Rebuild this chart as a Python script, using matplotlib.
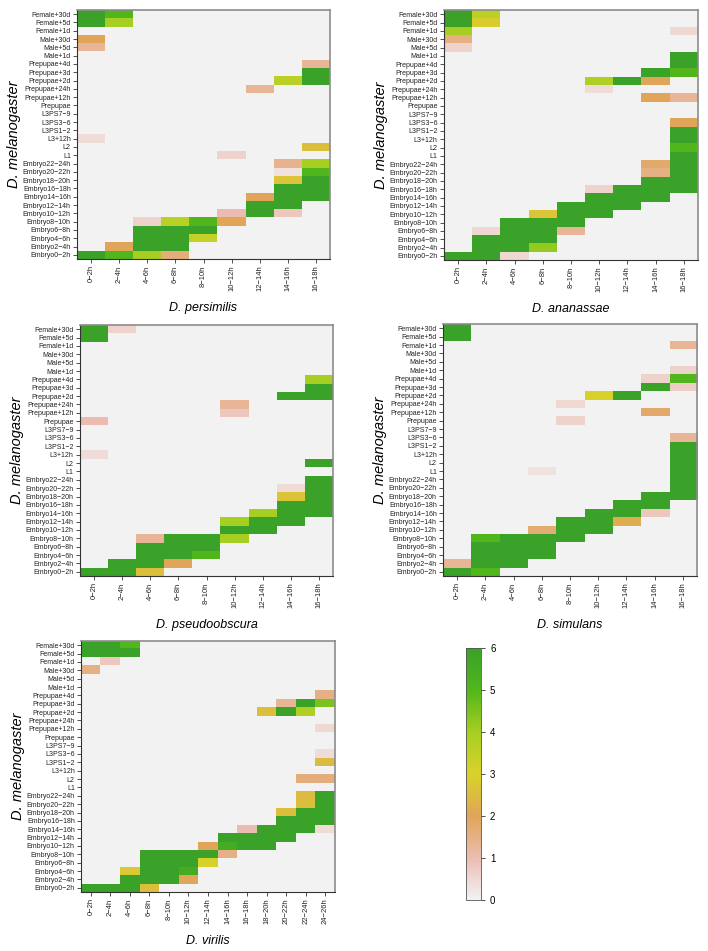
#!/usr/bin/env python3
"""Five melanogaster-vs-species stage heatmaps with a shared colour bar."""
import numpy as np
import matplotlib
matplotlib.use("Agg")
import matplotlib.pyplot as plt
from matplotlib.colors import LinearSegmentedColormap

plt.rcParams['font.family'] = ['Liberation Sans', 'DejaVu Sans']

# melanogaster stages, top to bottom
MEL_STAGES = [
    "Female+30d", "Female+5d", "Female+1d", "Male+30d", "Male+5d", "Male+1d",
    "Prepupae+4d", "Prepupae+3d", "Prepupae+2d", "Prepupae+24h", "Prepupae+12h",
    "Prepupae", "L3PS7\u22129", "L3PS3\u22126", "L3PS1\u22122", "L3+12h", "L2", "L1",
    "Embryo22\u221224h", "Embryo20\u221222h", "Embryo18\u221220h", "Embryo16\u221218h",
    "Embryo14\u221216h", "Embryo12\u221214h", "Embryo10\u221212h", "Embryo8\u221210h",
    "Embryo6\u22128h", "Embryo4\u22126h", "Embryo2\u22124h", "Embryo0\u22122h",
]

HOURS_9 = ["0\u22122h", "2\u22124h", "4\u22126h", "6\u22128h", "8\u221210h",
           "10\u221212h", "12\u221214h", "14\u221216h", "16\u221218h"]
HOURS_13 = HOURS_9 + ["18\u221220h", "20\u221222h", "22\u221224h", "24\u221226h"]

PERSIMILIS = [
    [6, 5, 0, 0, 0, 0, 0, 0, 0],
    [6, 4, 0, 0, 0, 0, 0, 0, 0],
    [0, 0, 0, 0, 0, 0, 0, 0, 0],
    [2, 0, 0, 0, 0, 0, 0, 0, 0],
    [1.3, 0, 0, 0, 0, 0, 0, 0, 0],
    [0, 0, 0, 0, 0, 0, 0, 0, 0],
    [0, 0, 0, 0, 0, 0, 0, 0, 1.3],
    [0, 0, 0, 0, 0, 0, 0, 0, 6],
    [0, 0, 0, 0, 0, 0, 0, 3.6, 6],
    [0, 0, 0, 0, 0, 0, 1.3, 0, 0],
    [0, 0, 0, 0, 0, 0, 0, 0, 0],
    [0, 0, 0, 0, 0, 0, 0, 0, 0],
    [0, 0, 0, 0, 0, 0, 0, 0, 0],
    [0, 0, 0, 0, 0, 0, 0, 0, 0],
    [0, 0, 0, 0, 0, 0, 0, 0, 0],
    [0.4, 0, 0, 0, 0, 0, 0, 0, 0],
    [0, 0, 0, 0, 0, 0, 0, 0, 2.6],
    [0, 0, 0, 0, 0, 0.6, 0, 0, 0],
    [0, 0, 0, 0, 0, 0, 0, 1.4, 4],
    [0, 0, 0, 0, 0, 0, 0, 0.3, 5],
    [0, 0, 0, 0, 0, 0, 0, 2.7, 6],
    [0, 0, 0, 0, 0, 0, 0, 6, 6],
    [0, 0, 0, 0, 0, 0, 2, 6, 6],
    [0, 0, 0, 0, 0, 0, 6, 6, 0],
    [0, 0, 0, 0, 0, 1, 6, 0.8, 0],
    [0, 0, 0.6, 3.6, 5, 2, 0, 0, 0],
    [0, 0, 6, 6, 6, 0, 0, 0, 0],
    [0, 0, 6, 6, 3.4, 0, 0, 0, 0],
    [0, 2, 6, 6, 0, 0, 0, 0, 0],
    [6, 5, 4, 1.6, 0, 0, 0, 0, 0],
]

ANANASSAE = [
    [6, 3.6, 0, 0, 0, 0, 0, 0, 0],
    [6, 2.9, 0, 0, 0, 0, 0, 0, 0],
    [4, 0, 0, 0, 0, 0, 0, 0, 0.5],
    [1.5, 0, 0, 0, 0, 0, 0, 0, 0],
    [0.6, 0, 0, 0, 0, 0, 0, 0, 0],
    [0, 0, 0, 0, 0, 0, 0, 0, 6],
    [0, 0, 0, 0, 0, 0, 0, 0, 6],
    [0, 0, 0, 0, 0, 0, 0, 6, 5],
    [0, 0, 0, 0, 0, 3.8, 6, 2, 0],
    [0, 0, 0, 0, 0, 0.4, 0, 0, 0],
    [0, 0, 0, 0, 0, 0, 0, 2, 1.3],
    [0, 0, 0, 0, 0, 0, 0, 0, 0],
    [0, 0, 0, 0, 0, 0, 0, 0, 0],
    [0, 0, 0, 0, 0, 0, 0, 0, 2],
    [0, 0, 0, 0, 0, 0, 0, 0, 6],
    [0, 0, 0, 0, 0, 0, 0, 0, 6],
    [0, 0, 0, 0, 0, 0, 0, 0, 5],
    [0, 0, 0, 0, 0, 0, 0, 0, 6],
    [0, 0, 0, 0, 0, 0, 0, 1.8, 6],
    [0, 0, 0, 0, 0, 0, 0, 1.5, 6],
    [0, 0, 0, 0, 0, 0, 0, 6, 6],
    [0, 0, 0, 0, 0, 0.6, 6, 6, 6],
    [0, 0, 0, 0, 0, 6, 6, 6, 0],
    [0, 0, 0, 0, 6, 6, 6, 0, 0],
    [0, 0, 0, 2.7, 6, 6, 0, 0, 0],
    [0, 0, 6, 6, 6, 0, 0, 0, 0],
    [0, 0.5, 6, 6, 1.3, 0, 0, 0, 0],
    [0, 6, 6, 6, 0, 0, 0, 0, 0],
    [0, 6, 6, 4.2, 0, 0, 0, 0, 0],
    [6, 6, 0.5, 0, 0, 0, 0, 0, 0],
]

PSEUDOOBSCURA = [
    [6, 0.6, 0, 0, 0, 0, 0, 0, 0],
    [6, 0, 0, 0, 0, 0, 0, 0, 0],
    [0, 0, 0, 0, 0, 0, 0, 0, 0],
    [0, 0, 0, 0, 0, 0, 0, 0, 0],
    [0, 0, 0, 0, 0, 0, 0, 0, 0],
    [0, 0, 0, 0, 0, 0, 0, 0, 0],
    [0, 0, 0, 0, 0, 0, 0, 0, 4],
    [0, 0, 0, 0, 0, 0, 0, 0, 6],
    [0, 0, 0, 0, 0, 0, 0, 6, 6],
    [0, 0, 0, 0, 0, 1.3, 0, 0, 0],
    [0, 0, 0, 0, 0, 0.8, 0, 0, 0],
    [1, 0, 0, 0, 0, 0, 0, 0, 0],
    [0, 0, 0, 0, 0, 0, 0, 0, 0],
    [0, 0, 0, 0, 0, 0, 0, 0, 0],
    [0, 0, 0, 0, 0, 0, 0, 0, 0],
    [0.4, 0, 0, 0, 0, 0, 0, 0, 0],
    [0, 0, 0, 0, 0, 0, 0, 0, 6],
    [0, 0, 0, 0, 0, 0, 0, 0, 0],
    [0, 0, 0, 0, 0, 0, 0, 0, 6],
    [0, 0, 0, 0, 0, 0, 0, 0.4, 6],
    [0, 0, 0, 0, 0, 0, 0, 2.7, 6],
    [0, 0, 0, 0, 0, 0, 0, 6, 6],
    [0, 0, 0, 0, 0, 0, 4, 6, 6],
    [0, 0, 0, 0, 0, 4, 6, 6, 0],
    [0, 0, 0, 0, 0, 6, 6, 0, 0],
    [0, 0, 1.3, 6, 6, 4, 0, 0, 0],
    [0, 0, 6, 6, 6, 0, 0, 0, 0],
    [0, 0, 6, 6, 5, 0, 0, 0, 0],
    [0, 6, 6, 2, 0, 0, 0, 0, 0],
    [6, 6, 2.6, 0, 0, 0, 0, 0, 0],
]

SIMULANS = [
    [6, 0, 0, 0, 0, 0, 0, 0, 0],
    [6, 0, 0, 0, 0, 0, 0, 0, 0],
    [0, 0, 0, 0, 0, 0, 0, 0, 1.3],
    [0, 0, 0, 0, 0, 0, 0, 0, 0],
    [0, 0, 0, 0, 0, 0, 0, 0, 0],
    [0, 0, 0, 0, 0, 0, 0, 0, 0.6],
    [0, 0, 0, 0, 0, 0, 0, 0.6, 5],
    [0, 0, 0, 0, 0, 0, 0, 6, 0.7],
    [0, 0, 0, 0, 0, 3, 6, 0, 0],
    [0, 0, 0, 0, 0.5, 0, 0, 0, 0],
    [0, 0, 0, 0, 0, 0, 0, 1.8, 0],
    [0, 0, 0, 0, 0.6, 0, 0, 0, 0],
    [0, 0, 0, 0, 0, 0, 0, 0, 0],
    [0, 0, 0, 0, 0, 0, 0, 0, 1.3],
    [0, 0, 0, 0, 0, 0, 0, 0, 6],
    [0, 0, 0, 0, 0, 0, 0, 0, 6],
    [0, 0, 0, 0, 0, 0, 0, 0, 6],
    [0, 0, 0, 0.3, 0, 0, 0, 0, 6],
    [0, 0, 0, 0, 0, 0, 0, 0, 6],
    [0, 0, 0, 0, 0, 0, 0, 0, 6],
    [0, 0, 0, 0, 0, 0, 0, 6, 6],
    [0, 0, 0, 0, 0, 0, 6, 6, 0],
    [0, 0, 0, 0, 0, 6, 6, 0.8, 0],
    [0, 0, 0, 0, 6, 6, 2.2, 0, 0],
    [0, 0, 0, 1.7, 6, 6, 0, 0, 0],
    [0, 5, 6, 6, 6, 0, 0, 0, 0],
    [0, 6, 6, 6, 0, 0, 0, 0, 0],
    [0, 6, 6, 6, 0, 0, 0, 0, 0],
    [1.3, 6, 6, 0, 0, 0, 0, 0, 0],
    [6, 5, 0, 0, 0, 0, 0, 0, 0],
]

VIRILIS = [
    [6, 6, 5, 0, 0, 0, 0, 0, 0, 0, 0, 0, 0],
    [6, 6, 6, 0, 0, 0, 0, 0, 0, 0, 0, 0, 0],
    [0, 0.8, 0, 0, 0, 0, 0, 0, 0, 0, 0, 0, 0],
    [1.5, 0, 0, 0, 0, 0, 0, 0, 0, 0, 0, 0, 0],
    [0, 0, 0, 0, 0, 0, 0, 0, 0, 0, 0, 0, 0],
    [0, 0, 0, 0, 0, 0, 0, 0, 0, 0, 0, 0, 0],
    [0, 0, 0, 0, 0, 0, 0, 0, 0, 0, 0, 0, 1.5],
    [0, 0, 0, 0, 0, 0, 0, 0, 0, 0, 1.3, 6, 4.5],
    [0, 0, 0, 0, 0, 0, 0, 0, 0, 2.6, 6, 3.8, 0],
    [0, 0, 0, 0, 0, 0, 0, 0, 0, 0, 0, 0, 0],
    [0, 0, 0, 0, 0, 0, 0, 0, 0, 0, 0, 0, 0.5],
    [0, 0, 0, 0, 0, 0, 0, 0, 0, 0, 0, 0, 0],
    [0, 0, 0, 0, 0, 0, 0, 0, 0, 0, 0, 0, 0],
    [0, 0, 0, 0, 0, 0, 0, 0, 0, 0, 0, 0, 0.4],
    [0, 0, 0, 0, 0, 0, 0, 0, 0, 0, 0, 0, 2.5],
    [0, 0, 0, 0, 0, 0, 0, 0, 0, 0, 0, 0, 0],
    [0, 0, 0, 0, 0, 0, 0, 0, 0, 0, 0, 1.6, 1.6],
    [0, 0, 0, 0, 0, 0, 0, 0, 0, 0, 0, 0, 0],
    [0, 0, 0, 0, 0, 0, 0, 0, 0, 0, 0, 2.5, 6],
    [0, 0, 0, 0, 0, 0, 0, 0, 0, 0, 0, 2.6, 6],
    [0, 0, 0, 0, 0, 0, 0, 0, 0, 0, 2.6, 6, 6],
    [0, 0, 0, 0, 0, 0, 0, 0, 0, 0, 6, 6, 6],
    [0, 0, 0, 0, 0, 0, 0, 0, 1, 6, 6, 6, 0.4],
    [0, 0, 0, 0, 0, 0, 0, 6, 6, 6, 6, 0, 0],
    [0, 0, 0, 0, 0, 0, 2, 5.5, 6, 6, 0, 0, 0],
    [0, 0, 0, 6, 6, 6, 6, 1.5, 0, 0, 0, 0, 0],
    [0, 0, 0, 6, 6, 6, 3, 0, 0, 0, 0, 0, 0],
    [0, 0, 2.8, 6, 6, 5.5, 0, 0, 0, 0, 0, 0, 0],
    [0, 0, 6, 6, 6, 2, 0, 0, 0, 0, 0, 0, 0],
    [6, 6, 6, 2.6, 0, 0, 0, 0, 0, 0, 0, 0, 0],
]

CMAP = LinearSegmentedColormap.from_list(
    "stage",
    [(0 / 6, "#f2f2f2"), (1 / 6, "#ecbcb2"), (2 / 6, "#e0a558"),
     (3 / 6, "#d9d22a"), (4 / 6, "#a6cf22"), (5 / 6, "#52b61c"), (6 / 6, "#3aa228")],
)

W, H = 708, 951
fig = plt.figure(figsize=(W / 100, H / 100), dpi=100)


def box(l, r, t, b):
    return [l / W, 1 - b / H, (r - l) / W, (b - t) / H]


# (matrix, x labels, species, pixel box left/right/top/bottom)
PANELS = [
    (PERSIMILIS, HOURS_9, "D. persimilis", (77, 330, 10, 259)),
    (ANANASSAE, HOURS_9, "D. ananassae", (444, 698, 10, 260)),
    (PSEUDOOBSCURA, HOURS_9, "D. pseudoobscura", (80, 333, 325, 576)),
    (SIMULANS, HOURS_9, "D. simulans", (443, 697, 324, 576)),
    (VIRILIS, HOURS_13, "D. virilis", (81, 335, 641, 892)),
]

for mat, xlabels, species, (l, r, t, b) in PANELS:
    ax = fig.add_axes(box(l, r, t, b))
    im = ax.imshow(np.array(mat, dtype=float), cmap=CMAP, vmin=0, vmax=6,
                   aspect="auto", interpolation="nearest")
    ax.set_yticks(range(len(MEL_STAGES)))
    ax.set_yticklabels(MEL_STAGES, fontsize=5)
    ax.set_xticks(range(len(xlabels)))
    ax.set_xticklabels(xlabels, fontsize=5.5, rotation=90)
    ax.tick_params(length=3, width=0.6, color="#333333", pad=1.5, labelcolor="#222222")
    for side in ("top", "right"):
        ax.spines[side].set_color("#8c8c8c")
        ax.spines[side].set_linewidth(1.2)
    for side in ("left", "bottom"):
        ax.spines[side].set_color("#333333")
        ax.spines[side].set_linewidth(0.8)
    fig.text((l + r) / 2 / W, 1 - (b + 49) / H, species, style="italic",
             fontsize=9, ha="center", va="center")
    fig.text((l - 63) / W, 1 - (t + b) / 2 / H, "D. melanogaster", style="italic",
             fontsize=10.5, rotation=90, ha="center", va="center")

# shared colour bar
cax = fig.add_axes(box(466, 481, 648, 900))
cb = fig.colorbar(im, cax=cax, ticks=range(7))
cb.outline.set_edgecolor("#555555")
cb.outline.set_linewidth(0.6)
cax.tick_params(labelsize=7, length=3, width=0.6, color="#333333")

fig.savefig("out.png", dpi=100)
